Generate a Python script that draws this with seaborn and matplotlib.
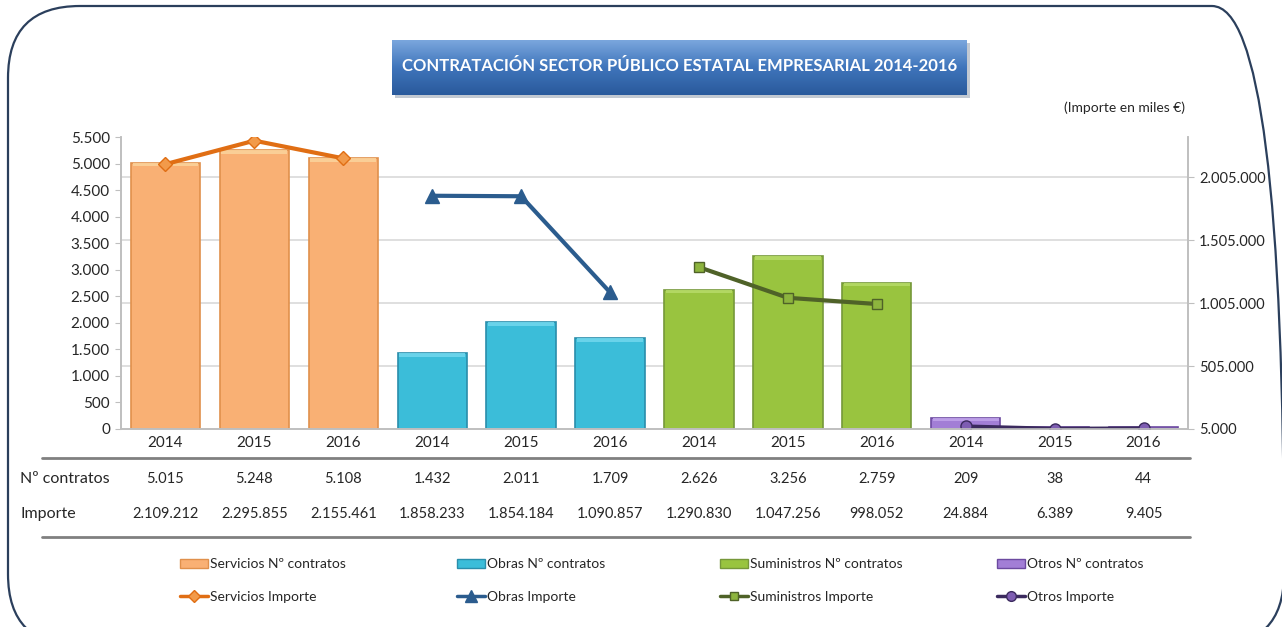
import numpy as np
import pandas as pd
import matplotlib
matplotlib.use("Agg")
import matplotlib.pyplot as plt
import matplotlib.transforms as mtransforms
from matplotlib.patches import FancyBboxPatch, Rectangle, Patch
from matplotlib.lines import Line2D
from matplotlib.ticker import FuncFormatter
import seaborn as sns

# ---- data ----
groups = ["Servicios", "Obras", "Suministros", "Otros"]
years = ["2014", "2015", "2016"]

servicios_contratos = [5015, 5248, 5108]
obras_contratos = [1432, 2011, 1709]
suministros_contratos = [2626, 3256, 2759]
otros_contratos = [209, 38, 44]

servicios_importe = [2109212, 2295855, 2155461]
obras_importe = [1858233, 1854184, 1090857]
suministros_importe = [1290830, 1047256, 998052]
otros_importe = [24884, 6389, 9405]

contratos = [servicios_contratos, obras_contratos, suministros_contratos, otros_contratos]
importe = [servicios_importe, obras_importe, suministros_importe, otros_importe]

# styles
bar_colors = {"Servicios": "#F9B074", "Obras": "#3BBDD9", "Suministros": "#99C43F", "Otros": "#A27ED6"}
bar_edges = {"Servicios": "#E0904C", "Obras": "#2A8EAB", "Suministros": "#76983A", "Otros": "#6C4AA0"}
bar_tops = {"Servicios": "#FBD29A", "Obras": "#6FD6EC", "Suministros": "#B5DA66", "Otros": "#BFA2EA"}
line_colors = {"Servicios": "#E06E14", "Obras": "#2B5C8E", "Suministros": "#4F6228", "Otros": "#3B2A5E"}
marker_face = {"Servicios": "#F29A4A", "Obras": "#2B5C8E", "Suministros": "#8DB43E", "Otros": "#7E5DB2"}
markers = {"Servicios": "D", "Obras": "^", "Suministros": "s", "Otros": "o"}
marker_sizes = {"Servicios": 7, "Obras": 10, "Suministros": 7, "Otros": 8}

rows = []
for gi, g in enumerate(groups):
    for yi, y in enumerate(years):
        rows.append({"pos": gi * 3 + yi, "group": g, "year": y,
                     "contratos": contratos[gi][yi], "importe": importe[gi][yi]})
df = pd.DataFrame(rows)

sns.set_style("white")
plt.rcParams["font.family"] = ["Lato", "DejaVu Sans"]

fig = plt.figure(figsize=(12.82, 6.27), dpi=100)
W, H = 1282, 627


def fx(px):
    return px / W


def fy(py):
    return 1 - py / H


# rounded outer frame (pixel coords, origin bottom-left)
frame = FancyBboxPatch((8, 627 - 6 - 640), 1276, 640, boxstyle="round,pad=0,rounding_size=72",
                       transform=None, facecolor="none", edgecolor="#2B3F5C", linewidth=1.6,
                       zorder=-10)
fig.patches.append(frame)

ax = fig.add_axes([fx(121), fy(429), fx(1188) - fx(121), fy(137) - fy(429)])
ax2 = ax.twinx()

sns.barplot(data=df, x="pos", y="contratos", hue="group", hue_order=groups,
            palette=bar_colors, dodge=False, saturation=1, width=0.78,
            legend=False, ax=ax)

for patch, (_, r) in zip(ax.patches, df.iterrows()):
    patch.set_edgecolor(bar_edges[r["group"]])
    patch.set_linewidth(1.2)
    # light bevel on top of each bar
    h = patch.get_height()
    hl = min(0.3 * h, 70)
    ax.add_patch(Rectangle((patch.get_x() + 0.02, patch.get_y() + h - hl),
                           patch.get_width() - 0.04, hl, facecolor=bar_tops[r["group"]],
                           edgecolor="none", alpha=0.9, zorder=patch.get_zorder() + 0.1))

ax.set_xlim(-0.5, 11.5)
ax.set_ylim(0, 5500)
ax.set_yticks(np.arange(0, 5501, 500))
ax.yaxis.set_major_formatter(FuncFormatter(lambda v, p: f"{v:,.0f}".replace(",", ".")))
ax.set_xticks(df["pos"])
ax.set_xticklabels(df["year"])
ax.set_xlabel("")
ax.set_ylabel("")

rmin, rmax = 5000, 2325000
ax2.set_ylim(rmin, rmax)
rticks = np.arange(5000, 2005001, 500000)
ax2.set_yticks(rticks)
ax2.yaxis.set_major_formatter(FuncFormatter(lambda v, p: f"{v:,.0f}".replace(",", ".")))

# gridlines at the right-axis ticks, drawn behind the bars
ax.set_yticks((rticks[1:] - rmin) / (rmax - rmin) * 5500, minor=True)
ax.grid(which="minor", axis="y", color="#D9D9D9", linewidth=1.2)
ax.set_axisbelow(True)

for g in groups:
    sub = df[df["group"] == g]
    sns.lineplot(data=sub, x="pos", y="importe", ax=ax2, color=line_colors[g],
                 linewidth=3, marker=markers[g], markersize=marker_sizes[g],
                 markerfacecolor=marker_face[g], markeredgecolor=line_colors[g],
                 markeredgewidth=1, legend=False)
ax2.set_xlim(-0.5, 11.5)
ax2.set_ylabel("")
ax2.set_xlabel("")

for a in (ax, ax2):
    for s in a.spines.values():
        s.set_color("#BFBFBF")
        s.set_linewidth(1.2)
    a.spines["top"].set_visible(False)
ax.tick_params(axis="y", which="major", length=4, color="#BFBFBF", labelsize=11, pad=4,
               labelcolor="#262626")
ax.tick_params(axis="y", which="minor", length=0)
ax.tick_params(axis="x", length=0, labelsize=11, pad=5, labelcolor="#262626")
ax2.tick_params(axis="y", length=4, color="#BFBFBF", labelsize=10.5, pad=4, labelcolor="#262626")
ax2.grid(False)

fig.text(fx(1185), fy(108), "(Importe en miles €)", ha="right", va="center",
         fontsize=10, color="#262626")

# title box with gradient
shadow = FancyBboxPatch((fx(395), fy(98)), fx(967) - fx(392), fy(40) - fy(95),
                        boxstyle="square,pad=0", transform=fig.transFigure,
                        facecolor="#9AA5B5", edgecolor="none", alpha=0.6, zorder=-5)
fig.patches.append(shadow)
tax = fig.add_axes([fx(392), fy(95), fx(967) - fx(392), fy(40) - fy(95)])
grad = np.linspace(0, 1, 64).reshape(-1, 1)
cmap = matplotlib.colors.LinearSegmentedColormap.from_list("tb", ["#7AA6DD", "#3F75BB", "#2A5A9C"])
tax.imshow(grad, aspect="auto", cmap=cmap, extent=(0, 1, 0, 1), origin="upper")
tax.set_axis_off()
fig.text(fx(679.5), fy(66), "CONTRATACIÓN SECTOR PÚBLICO ESTATAL EMPRESARIAL 2014-2016",
         ha="center", va="center", color="white", fontsize=12, fontweight="bold")

# data table under the chart
trans = mtransforms.blended_transform_factory(ax.transData, fig.transFigure)
fig.add_artist(Line2D([fx(42), fx(1190)], [fy(458), fy(458)], color="#808080", linewidth=2))
fig.add_artist(Line2D([fx(42), fx(1190)], [fy(537), fy(537)], color="#808080", linewidth=2))
fig.text(fx(20), fy(479), "Nº contratos", ha="left", va="center", fontsize=11.5, color="#262626")
fig.text(fx(20), fy(514), "Importe", ha="left", va="center", fontsize=11.5, color="#262626")
for _, r in df.iterrows():
    ax.text(r["pos"], fy(479), f"{r['contratos']:,}".replace(",", "."), transform=trans,
            ha="center", va="center", fontsize=10.5, color="#262626")
    ax.text(r["pos"], fy(514), f"{r['importe']:,}".replace(",", "."), transform=trans,
            ha="center", va="center", fontsize=10.5, color="#262626")

# legend: one small legend per group
legend_x = [180, 457, 720, 997]
for g, lx in zip(groups, legend_x):
    handles = [Patch(facecolor=bar_colors[g], edgecolor=bar_edges[g]),
               Line2D([], [], color=line_colors[g], linewidth=2.5, marker=markers[g],
                      markersize=marker_sizes[g] - 1, markerfacecolor=marker_face[g],
                      markeredgecolor=line_colors[g])]
    labels = [f"{g} Nº contratos", f"{g} Importe"]
    fig.legend(handles, labels, loc="center left", bbox_to_anchor=(fx(lx), fy(580.5)),
               frameon=False, fontsize=10, handlelength=2.0, handleheight=0.6,
               handletextpad=0.15, labelspacing=1.45, borderpad=0, borderaxespad=0,
               labelcolor="#262626")

fig.savefig("out.png", dpi=100)
